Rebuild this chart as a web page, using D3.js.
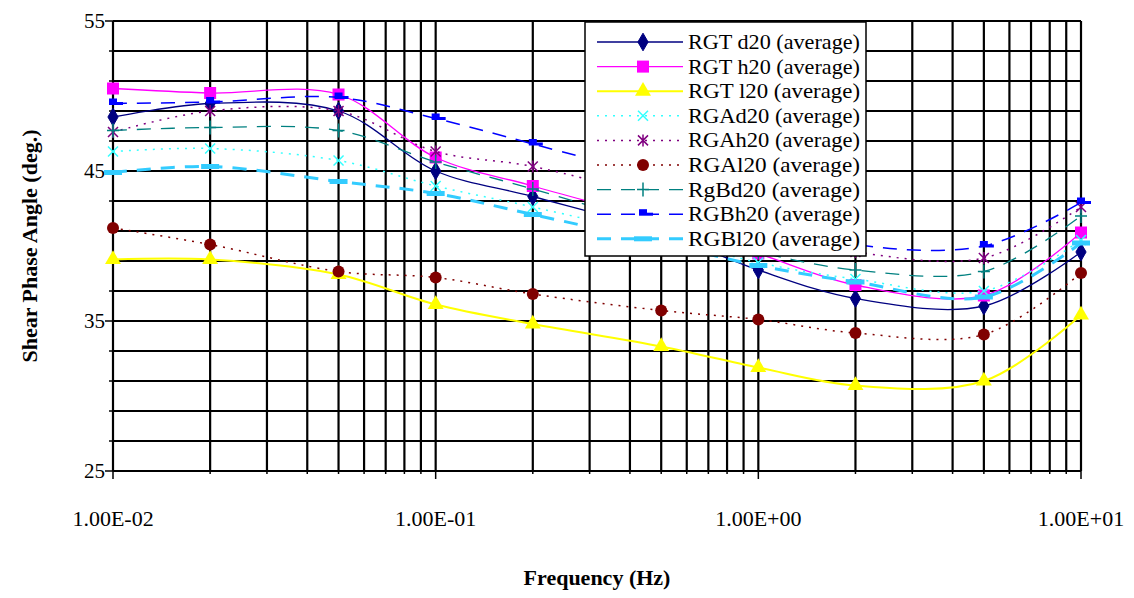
<!DOCTYPE html>
<html>
<head>
<meta charset="utf-8">
<script src="https://cdn.jsdelivr.net/npm/d3@7"></script>
<style>
  body { margin: 0; background: #fff; }
  svg { display: block; }
  text { font-family: "Liberation Serif", "Times New Roman", serif; fill: #000; }
</style>
</head>
<body>
<div id="chart"></div>
<script>
// data
const freqs = [0.01, 0.02, 0.05, 0.1, 0.2, 0.5, 1, 2, 5, 10];
const seriesNames = ["RGT d20 (average)", "RGT h20 (average)", "RGT l20 (average)",
  "RGAd20 (average)", "RGAh20 (average)", "RGAl20 (average)",
  "RgBd20 (average)", "RGBh20 (average)", "RGBl20 (average)"];
const rgtD20 = [48.6, 49.5, 49.0, 45.0, 43.3, 40.9, 38.4, 36.5, 36.0, 39.6];
const rgtH20 = [50.5, 50.2, 50.1, 45.9, 44.0, 41.6, 39.5, 37.4, 36.7, 40.9];
const rgtL20 = [39.1, 39.1, 38.1, 36.1, 34.8, 33.3, 31.9, 30.7, 31.0, 35.4];
const rgaD20 = [46.3, 46.5, 45.7, 44.0, 42.6, 40.6, 38.9, 37.8, 37.0, 40.4];
const rgaH20 = [47.6, 49.0, 49.0, 46.3, 45.3, 43.1, 41.0, 39.6, 39.2, 42.6];
const rgaL20 = [41.2, 40.1, 38.3, 37.9, 36.8, 35.7, 35.1, 34.2, 34.1, 38.2];
const rgbD20 = [47.7, 47.9, 47.7, 45.6, 43.8, 41.3, 39.6, 38.4, 38.3, 42.0];
const rgbH20 = [49.5, 49.6, 49.9, 48.5, 46.8, 44.4, 41.8, 40.1, 40.0, 42.9];
const rgbL20 = [44.9, 45.3, 44.3, 43.5, 42.1, 40.2, 38.7, 37.6, 36.6, 40.2];
const yMajorTicks = [25, 35, 45, 55];
const xTickLabels = ["1.00E-02", "1.00E-01", "1.00E+00", "1.00E+01"];

const allValues = [rgtD20, rgtH20, rgtL20, rgaD20, rgaH20, rgaL20, rgbD20, rgbH20, rgbL20];

// styles per series
const styles = [
  {color: "#000080", dash: null, width: 1.3, marker: "diamond"},
  {color: "#ff00ff", dash: null, width: 1.3, marker: "square"},
  {color: "#ffff00", dash: null, width: 2, marker: "triangle"},
  {color: "#33ffff", dash: "2,6", width: 1.5, marker: "cross"},
  {color: "#800080", dash: "2,6", width: 1.5, marker: "star"},
  {color: "#800000", dash: "2,6", width: 1.5, marker: "circle"},
  {color: "#008080", dash: "14,10", width: 1.3, marker: "plus"},
  {color: "#0000ff", dash: "14,10", width: 1.5, marker: "bar"},
  {color: "#33ccff", dash: "14,10", width: 3, marker: "longbar"}
];

const W = 1134, H = 598;
const M = {left: 113, right: 53, top: 21, bottom: 127};
const PW = W - M.left - M.right;
const PH = H - M.top - M.bottom;

const x = d3.scaleLog().domain([0.01, 10]).range([0, PW]);
const y = d3.scaleLinear().domain([25, 55]).range([PH, 0]);

const svg = d3.select("#chart").append("svg")
  .attr("width", W).attr("height", H);

const g = svg.append("g").attr("transform", "translate(" + M.left + "," + M.top + ")");

// gridlines
const xGrid = [];
[0.01, 0.1, 1].forEach(d => { for (let k = 1; k <= 9; k++) xGrid.push(d * k); });
xGrid.push(10);
const yGrid = d3.range(25, 56, 2);

g.selectAll(".vgrid").data(xGrid).join("line")
  .attr("x1", d => x(d)).attr("x2", d => x(d))
  .attr("y1", 0).attr("y2", PH)
  .attr("stroke", "#000").attr("stroke-width", 2.2);

g.selectAll(".hgrid").data(yGrid).join("line")
  .attr("x1", 0).attr("x2", PW)
  .attr("y1", d => y(d)).attr("y2", d => y(d))
  .attr("stroke", "#000").attr("stroke-width", 2.2);

// y axis ticks
g.selectAll(".ytick").data(yGrid).join("line")
  .attr("x1", d => yMajorTicks.includes(d) ? -8 : -4).attr("x2", 0)
  .attr("y1", d => y(d)).attr("y2", d => y(d))
  .attr("stroke", "#000").attr("stroke-width", 1.5);

g.selectAll(".ylabel").data(yMajorTicks).join("text")
  .attr("x", -8).attr("y", d => y(d) + 7)
  .attr("text-anchor", "end").attr("font-size", 21)
  .text(d => d);

// x axis ticks
g.selectAll(".xtick").data(xGrid).join("line")
  .attr("x1", d => x(d)).attr("x2", d => x(d))
  .attr("y1", PH).attr("y2", (d, i) => (i % 9 === 0) ? PH + 8 : PH + 3)
  .attr("stroke", "#000").attr("stroke-width", 1.5);

g.selectAll(".xlabel").data(xTickLabels).join("text")
  .attr("x", (d, i) => x(Math.pow(10, i - 2)))
  .attr("y", PH + 55)
  .attr("text-anchor", "middle").attr("font-size", 22)
  .text(d => d);

// axis titles
svg.append("text")
  .attr("transform", "translate(37," + (M.top + PH / 2) + ") rotate(-90)")
  .attr("text-anchor", "middle").attr("font-size", 22).attr("font-weight", "bold")
  .text("Shear Phase Angle (deg.)");

svg.append("text")
  .attr("x", 597).attr("y", 585)
  .attr("text-anchor", "middle").attr("font-size", 22).attr("font-weight", "bold")
  .text("Frequency (Hz)");

// markers
function drawMarker(sel, type, color) {
  if (type === "diamond") {
    sel.append("path").attr("d", d3.symbol(d3.symbolDiamond, 90)())
      .attr("fill", color).attr("stroke", color);
  } else if (type === "square") {
    sel.append("rect").attr("x", -6).attr("y", -6).attr("width", 12).attr("height", 12)
      .attr("fill", color);
  } else if (type === "triangle") {
    sel.append("path").attr("d", d3.symbol(d3.symbolTriangle, 110)())
      .attr("fill", color);
  } else if (type === "circle") {
    sel.append("circle").attr("r", 6).attr("fill", color);
  } else if (type === "cross") {
    sel.append("path").attr("d", "M-5,-5L5,5M-5,5L5,-5")
      .attr("stroke", color).attr("stroke-width", 1.5).attr("fill", "none");
  } else if (type === "star") {
    sel.append("path").attr("d", "M-5,-5L5,5M-5,5L5,-5M0,-6L0,6")
      .attr("stroke", color).attr("stroke-width", 1.5).attr("fill", "none");
  } else if (type === "plus") {
    sel.append("path").attr("d", "M-6,0L6,0M0,-7L0,7")
      .attr("stroke", color).attr("stroke-width", 1.5).attr("fill", "none");
  } else if (type === "bar") {
    sel.append("rect").attr("x", -4).attr("y", -5).attr("width", 8).attr("height", 5)
      .attr("fill", color);
    sel.append("rect").attr("x", -4).attr("y", -1.5).attr("width", 14).attr("height", 3)
      .attr("fill", color);
  } else if (type === "longbar") {
    sel.append("rect").attr("x", -9).attr("y", -2.5).attr("width", 18).attr("height", 5)
      .attr("fill", color);
  }
}

const line = d3.line()
  .x(d => x(d[0]))
  .y(d => y(d[1]))
  .curve(d3.curveCatmullRom.alpha(0.5));

allValues.forEach((vals, i) => {
  const st = styles[i];
  const pts = freqs.map((f, j) => [f, vals[j]]);
  g.append("path")
    .datum(pts)
    .attr("d", line)
    .attr("fill", "none")
    .attr("stroke", st.color)
    .attr("stroke-width", st.width)
    .attr("stroke-dasharray", st.dash);
  pts.forEach(p => {
    const m = g.append("g").attr("transform", "translate(" + x(p[0]) + "," + y(p[1]) + ")");
    drawMarker(m, st.marker, st.color);
  });
});

// legend
const LX = 585, LY = 22, LW = 281, LH = 234, rowH = 24.6;
const legend = svg.append("g");
legend.append("rect")
  .attr("x", LX).attr("y", LY).attr("width", LW).attr("height", LH)
  .attr("fill", "#fff").attr("stroke", "#000").attr("stroke-width", 1.5);

seriesNames.forEach((name, i) => {
  const st = styles[i];
  const cy = LY + 20 + i * rowH;
  const row = legend.append("g");
  row.append("line")
    .attr("x1", LX + 12).attr("x2", LX + 98)
    .attr("y1", cy).attr("y2", cy)
    .attr("stroke", st.color).attr("stroke-width", st.width)
    .attr("stroke-dasharray", st.dash);
  drawMarker(row.append("g").attr("transform", "translate(" + (LX + 58) + "," + cy + ")"),
    st.marker, st.color);
  row.append("text")
    .attr("x", LX + 103).attr("y", cy + 7)
    .attr("font-size", 21)
    .attr("textLength", 172)
    .attr("lengthAdjust", "spacingAndGlyphs")
    .text(name);
});
</script>
</body>
</html>
